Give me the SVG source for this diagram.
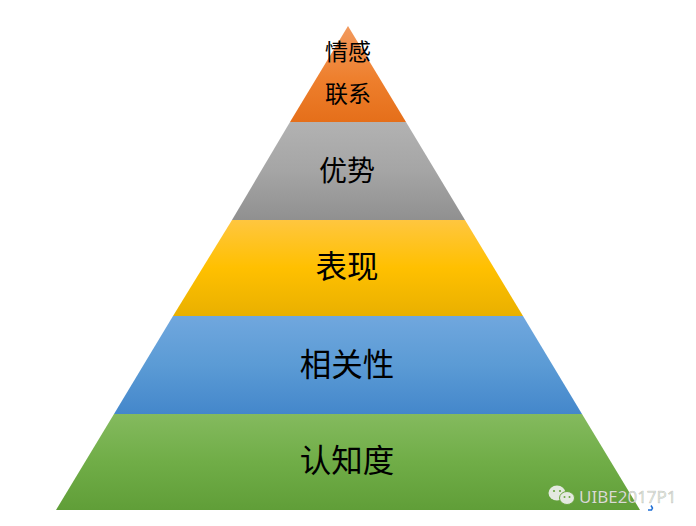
<svg xmlns="http://www.w3.org/2000/svg" width="696" height="526" viewBox="0 0 696 526">
<style>
text{font-family:"Liberation Sans","Noto Sans CJK SC",sans-serif;fill:#000;text-anchor:middle}
.l{font-size:31.5px}
.m{font-size:28px}
.s{font-size:23px}
.w{font-size:17px;fill:#e2e7dd;stroke:#555;stroke-opacity:.3;stroke-width:.5px;text-anchor:start;font-family:"Noto Sans","Liberation Sans",sans-serif}
.e{fill:#6aa53f}
</style>
<defs>
<linearGradient id="o" x1="0" y1="0" x2="0" y2="1"><stop offset="0" stop-color="#f29a5e"/><stop offset=".55" stop-color="#ee7f2d"/><stop offset="1" stop-color="#e56f1a"/></linearGradient>
<linearGradient id="g" x1="0" y1="0" x2="0" y2="1"><stop offset="0" stop-color="#b2b2b2"/><stop offset=".5" stop-color="#a5a5a5"/><stop offset="1" stop-color="#909090"/></linearGradient>
<linearGradient id="y" x1="0" y1="0" x2="0" y2="1"><stop offset="0" stop-color="#ffc63f"/><stop offset=".5" stop-color="#ffc000"/><stop offset="1" stop-color="#e9b000"/></linearGradient>
<linearGradient id="b" x1="0" y1="0" x2="0" y2="1"><stop offset="0" stop-color="#70a7de"/><stop offset=".5" stop-color="#5b9bd5"/><stop offset="1" stop-color="#4487cb"/></linearGradient>
<linearGradient id="n" x1="0" y1="0" x2="0" y2="1"><stop offset="0" stop-color="#84ba5e"/><stop offset=".5" stop-color="#70ad47"/><stop offset="1" stop-color="#609e38"/></linearGradient>
</defs>
<g id="node-qinggan"><polygon points="348,26 406,122 290,122" fill="url(#o)"/><text class="s" x="348" y="60">情感</text><text class="s" x="348" y="102">联系</text></g>
<g id="node-youshi"><polygon points="290,122 406,122 465,220 232,220" fill="url(#g)"/><text class="m" x="347" y="181">优势</text></g>
<g id="node-biaoxian"><polygon points="232,220 465,220 523,316 173,316" fill="url(#y)"/><text class="l" x="347" y="278">表现</text></g>
<g id="node-xiangguan"><polygon points="173,316 523,316 582,414 114,414" fill="url(#b)"/><text class="l" x="347" y="376">相关性</text></g>
<g id="node-renzhi"><polygon points="114,414 582,414 640,510 56,510" fill="url(#n)"/><text class="l" x="347" y="472">认知度</text></g>
<g id="connectors"></g>
<g id="watermark">
<ellipse cx="557" cy="493" rx="8.500" ry="7.500" fill="#e4e9e0"/><ellipse cx="567" cy="498" rx="7.500" ry="6.500" fill="#e4e9e0" stroke="#6aa53f"/>
<circle class="e" cx="554" cy="491" r="1.100"/><circle class="e" cx="560" cy="491" r="1.100"/><circle class="e" cx="564.500" cy="497" r="1"/><circle class="e" cx="569.500" cy="497" r="1"/>
<path d="M651 505.500l1.500 2.500-1 2h-3.500" fill="none" stroke="#1f6fd6" stroke-width="1.500"/>
<text class="w" x="579" y="503">UIBE2017P1</text>
</g>
</svg>
